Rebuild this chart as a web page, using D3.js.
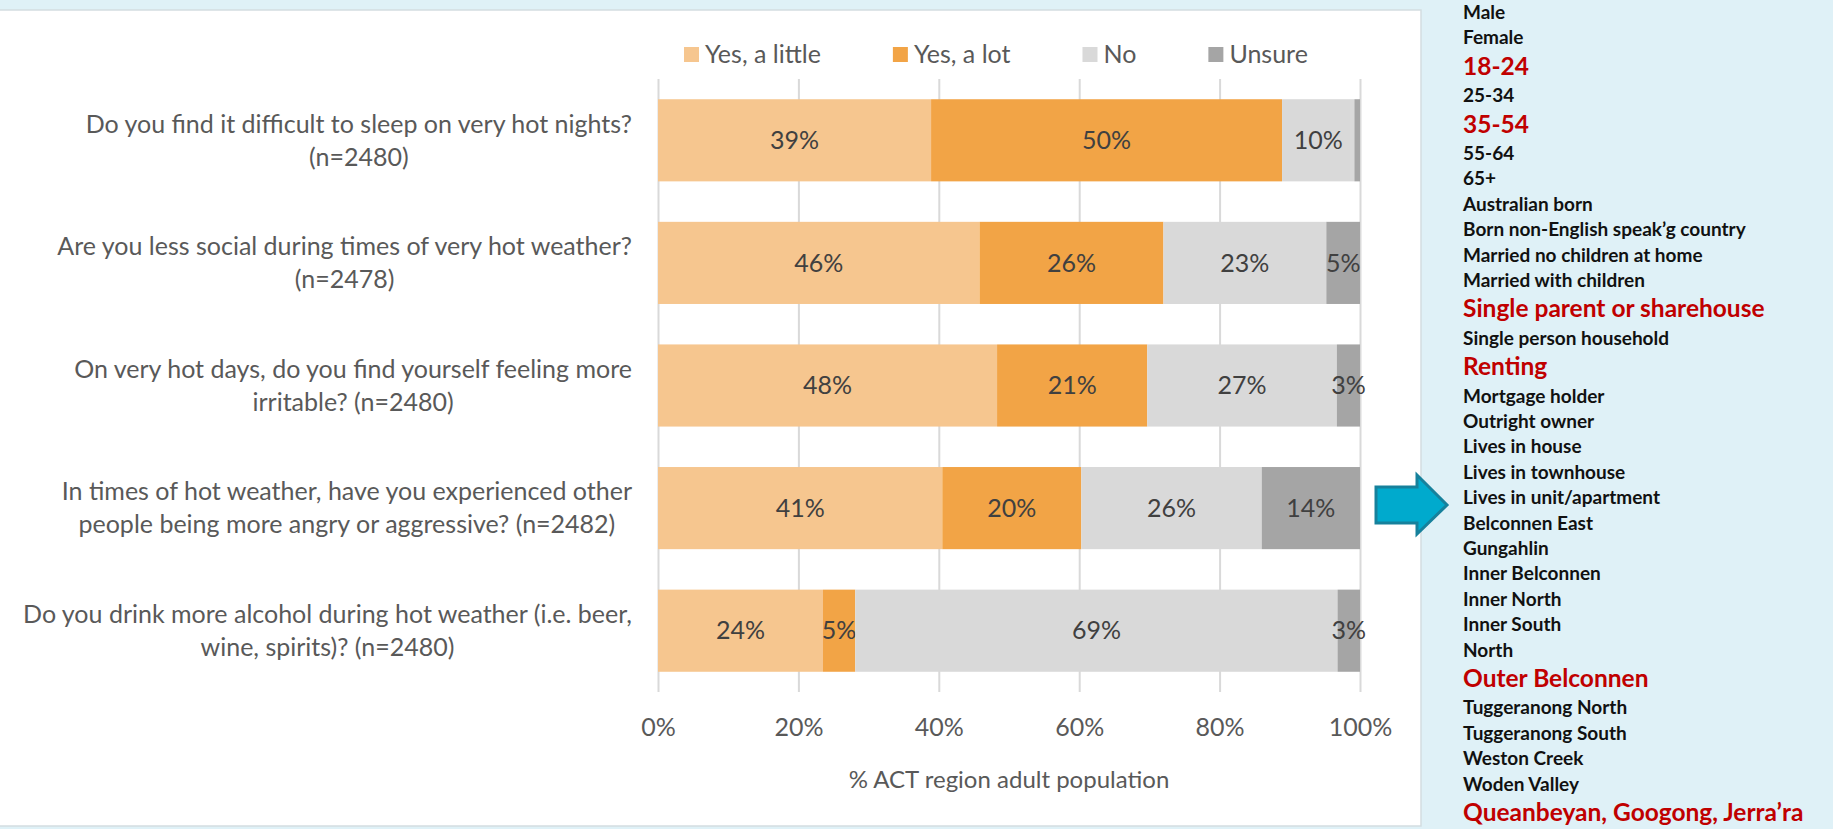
<!DOCTYPE html>
<html>
<head>
<meta charset="utf-8">
<script src="https://cdn.jsdelivr.net/npm/d3@7"></script>
<style>
  body { margin: 0; background: #dff1f7; }
  svg { display: block; }
  text { font-family: Lato, "Open Sans", sans-serif; }
</style>
</head>
<body>
<svg width="1833" height="829"></svg>
<script>
// ---- data ----
var questions = [
    ['Do you find it difficult to sleep on very hot nights?', '(n=2480)'],
    ['Are you less social during times of very hot weather?', '(n=2478)'],
    ['On very hot days, do you find yourself feeling more', 'irritable? (n=2480)'],
    ['In times of hot weather, have you experienced other', 'people being more angry or aggressive? (n=2482)'],
    ['Do you drink more alcohol during hot weather (i.e. beer,', 'wine, spirits)? (n=2480)']
];
var seriesNames = ['Yes, a little', 'Yes, a lot', 'No', 'Unsure'];
var yesLittle = [38.9, 45.8, 48.3, 40.5, 23.5];
var yesLot    = [50.0, 26.2, 21.4, 19.8, 4.6];
var no        = [10.3, 23.2, 27.0, 25.7, 68.7];
var unsure    = [0.8, 4.8, 3.3, 14.0, 3.2];
var tickValues = [0, 20, 40, 60, 80, 100];
var sideLabels = ['Male', 'Female', '18-24', '25-34', '35-54', '55-64', '65+', 'Australian born',
    'Born non-English speak\u2019g country', 'Married no children at home', 'Married with children',
    'Single parent or sharehouse', 'Single person household', 'Renting', 'Mortgage holder',
    'Outright owner', 'Lives in house', 'Lives in townhouse', 'Lives in unit/apartment',
    'Belconnen East', 'Gungahlin', 'Inner Belconnen', 'Inner North', 'Inner South', 'North',
    'Outer Belconnen', 'Tuggeranong North', 'Tuggeranong South', 'Weston Creek', 'Woden Valley',
    'Queanbeyan, Googong, Jerra\u2019ra'];
var highlighted = ['18-24', '35-54', 'Single parent or sharehouse', 'Renting', 'Outer Belconnen',
    'Queanbeyan, Googong, Jerra\u2019ra'];

var colors = ['#f6c68f', '#f2a446', '#d9d9d9', '#a5a5a5'];

var svg = d3.select('svg');

// white chart panel
svg.append('rect')
    .attr('x', -2).attr('y', 10)
    .attr('width', 1423).attr('height', 816)
    .attr('fill', '#fff')
    .attr('stroke', '#d3dde1')
    .attr('stroke-width', 1.5);

var plot = {l: 658, r: 1360, t: 79, b: 692};

var xScale = d3.scaleLinear().domain([0, 100]).range([plot.l, plot.r]);
var yScale = d3.scaleBand()
    .domain(d3.range(questions.length))
    .range([plot.t, plot.b])
    .paddingInner(0.33)
    .paddingOuter(0.165);

// gridlines + tick labels
var axis = d3.axisBottom(xScale)
    .tickValues(tickValues)
    .tickFormat(function(d) { return d + '%'; })
    .tickSize(-(plot.b - plot.t))
    .tickPadding(26);

var axisG = svg.append('g')
    .attr('class', 'x axis')
    .attr('transform', 'translate(0,' + plot.b + ')')
    .call(axis);
axisG.select('.domain').remove();
axisG.selectAll('line').attr('stroke', '#d9d9d9').attr('stroke-width', 2);
axisG.selectAll('text')
    .attr('fill', '#595959')
    .style('font-size', '25px');

svg.append('text')
    .attr('x', (plot.l + plot.r) / 2)
    .attr('y', 780)
    .attr('dy', '0.35em')
    .attr('text-anchor', 'middle')
    .attr('fill', '#595959')
    .style('font-size', '24px')
    .text('% ACT region adult population');

// stacked bars
var rows = questions.map(function(q, i) {
    return {i: i, vals: [yesLittle[i], yesLot[i], no[i], unsure[i]]};
});

var barG = svg.append('g').attr('class', 'bars');
rows.forEach(function(row) {
    var start = 0;
    row.vals.forEach(function(v, k) {
        var seg = barG.append('g');
        seg.append('rect')
            .attr('x', xScale(start))
            .attr('y', yScale(row.i))
            .attr('width', xScale(start + v) - xScale(start))
            .attr('height', yScale.bandwidth())
            .attr('fill', colors[k]);
        if (v >= 1.5) {
            seg.append('text')
                .attr('x', xScale(start + v / 2))
                .attr('y', yScale(row.i) + yScale.bandwidth() / 2)
                .attr('dy', '0.35em')
                .attr('text-anchor', 'middle')
                .attr('fill', '#404040')
                .style('font-size', '25px')
                .text(Math.round(v) + '%');
        }
        start += v;
    });
});

// question labels, centred block with right edge near the plot
var labelRight = 632;
questions.forEach(function(lines, i) {
    var g = svg.append('g');
    var cy = yScale(i) + yScale.bandwidth() / 2;
    var texts = lines.map(function(line, j) {
        return g.append('text')
            .attr('y', cy + (j - (lines.length - 1) / 2) * 33)
            .attr('dy', '0.35em')
            .attr('text-anchor', 'middle')
            .attr('fill', '#595959')
            .style('font-size', '25px')
            .text(line);
    });
    var maxW = d3.max(texts, function(t) { return t.node().getComputedTextLength(); });
    texts.forEach(function(t) { t.attr('x', labelRight - maxW / 2); });
});

// legend
var legendX = 684;
seriesNames.forEach(function(name, k) {
    var g = svg.append('g').attr('transform', 'translate(' + legendX + ',47)');
    g.append('rect').attr('width', 15).attr('height', 15).attr('fill', colors[k]);
    var t = g.append('text')
        .attr('x', 21).attr('y', 7.5)
        .attr('dy', '0.35em')
        .attr('fill', '#595959')
        .style('font-size', '25px')
        .text(name);
    legendX += 21 + t.node().getComputedTextLength() + 72;
});

// arrow
var arrow = [[1376, 487], [1417, 487], [1417, 475], [1447, 505], [1417, 534], [1417, 523], [1376, 523]];
svg.append('path')
    .attr('d', d3.line()(arrow) + 'Z')
    .attr('fill', '#00aacd')
    .attr('stroke', '#16819c')
    .attr('stroke-width', 3)
    .attr('stroke-linejoin', 'miter');

// right-hand list
var y = 19;
sideLabels.forEach(function(label, i) {
    var red = highlighted.indexOf(label) >= 0;
    if (i > 0) {
        var prevRed = highlighted.indexOf(sideLabels[i - 1]) >= 0;
        y += red ? 30.4 : (prevRed ? 27.4 : 25.4);
    }
    svg.append('text')
        .attr('x', 1463)
        .attr('y', y)
        .attr('fill', red ? '#c00000' : '#111')
        .style('font-weight', 'bold')
        .style('font-size', red ? '24.5px' : '19px')
        .text(label);
});
</script>
</body>
</html>
